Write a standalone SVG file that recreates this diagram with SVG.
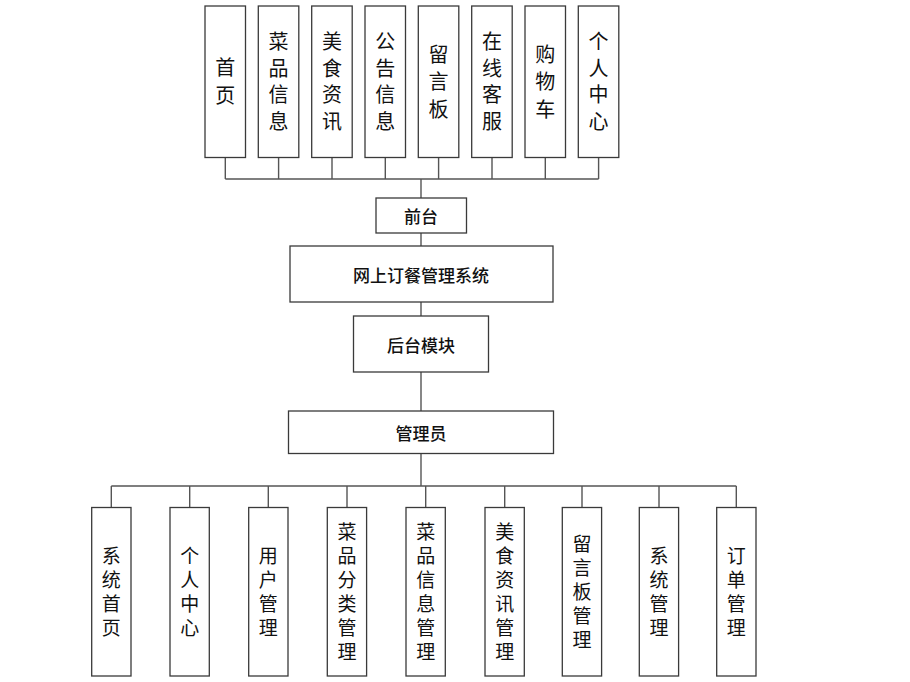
<svg xmlns="http://www.w3.org/2000/svg" width="910" height="682" viewBox="0 0 910 682">
<style>
.box{fill:#fff;stroke:#3a3a3a;stroke-width:1.3}
.ln{fill:none;stroke:#555;stroke-width:1.4}
.t{font-family:"Noto Sans CJK SC","Liberation Sans",sans-serif;fill:#111;text-anchor:middle;dominant-baseline:central}
.v{writing-mode:vertical-rl}
.tt{font-size:20px;letter-spacing:6.5px}
.tt3{font-size:20px;letter-spacing:7.5px}
.bt{font-size:19px;letter-spacing:5px}
.mt{font-size:17px;font-weight:500}
</style>
<rect width="910" height="682" fill="#fff"/>
<g id="connectors">
<path class="ln" d="M225.3,157.5V179M278.6,157.5V179M332,157.5V179M385.3,157.5V179M438.6,157.5V179M492,157.5V179M545.3,157.5V179M598.6,157.5V179M225.3,179H598.6"/>
<path class="ln" d="M421,179V198" stroke="#222"/>
<path class="ln" d="M421,233V246M421,302V316M421,372V411"/>
<path class="ln" d="M421,453V486" stroke="#222"/>
<path class="ln" d="M111.3,486H736.3M111.3,486V507.5M189.7,486V507.5M268.3,486V507.5M347,486V507.5M425.7,486V507.5M504.7,486V507.5M582,486V507.5M659,486V507.5M736.3,486V507.5"/>
</g>
<g id="n-shouye"><rect class="box" x="205" y="6" width="40.5" height="151.5"/><text class="t v tt3" x="225.3" y="85.3">首页</text></g>
<g id="n-caipin"><rect class="box" x="258.3" y="6" width="40.5" height="151.5"/><text class="t v tt" x="278.6" y="84.8">菜品信息</text></g>
<g id="n-meishi"><rect class="box" x="311.7" y="6" width="40.5" height="151.5"/><text class="t v tt" x="332" y="84.8">美食资讯</text></g>
<g id="n-gonggao"><rect class="box" x="365" y="6" width="40.5" height="151.5"/><text class="t v tt" x="385.3" y="84.8">公告信息</text></g>
<g id="n-liuyan"><rect class="box" x="418.3" y="6" width="40.5" height="151.5"/><text class="t v tt3" x="438.6" y="85.3">留言板</text></g>
<g id="n-kefu"><rect class="box" x="471.7" y="6" width="40.5" height="151.5"/><text class="t v tt" x="492" y="84.8">在线客服</text></g>
<g id="n-gouwu"><rect class="box" x="525" y="6" width="40.5" height="151.5"/><text class="t v tt3" x="545.3" y="85.3">购物车</text></g>
<g id="n-geren"><rect class="box" x="578.3" y="6" width="40.5" height="151.5"/><text class="t v tt" x="598.6" y="84.8">个人中心</text></g>
<g id="n-qiantai"><rect class="box" x="376" y="198" width="90.5" height="35"/><text class="t mt" x="421" y="215.5">前台</text></g>
<g id="n-system"><rect class="box" x="290" y="246" width="263" height="56"/><text class="t mt" x="421" y="274" font-size="17.5">网上订餐管理系统</text></g>
<g id="n-houtai"><rect class="box" x="353.5" y="316" width="135" height="56"/><text class="t mt" x="421" y="344" font-size="17.5">后台模块</text></g>
<g id="n-admin"><rect class="box" x="288.5" y="411" width="265" height="42.5"/><text class="t mt" x="421" y="432.5">管理员</text></g>
<g id="n-xtsy"><rect class="box" x="91.7" y="507.5" width="39.3" height="168.5"/><text class="t v bt" x="111.3" y="594">系统首页</text></g>
<g id="n-grzx"><rect class="box" x="170" y="507.5" width="39.3" height="168.5"/><text class="t v bt" x="189.7" y="594">个人中心</text></g>
<g id="n-yhgl"><rect class="box" x="248.7" y="507.5" width="39.3" height="168.5"/><text class="t v bt" x="268.3" y="594">用户管理</text></g>
<g id="n-cpfl"><rect class="box" x="327.3" y="507.5" width="39.3" height="168.5"/><text class="t v bt" x="347" y="594">菜品分类管理</text></g>
<g id="n-cpxx"><rect class="box" x="406" y="507.5" width="39.3" height="168.5"/><text class="t v bt" x="425.7" y="594">菜品信息管理</text></g>
<g id="n-mszx"><rect class="box" x="485" y="507.5" width="39.3" height="168.5"/><text class="t v bt" x="504.7" y="594">美食资讯管理</text></g>
<g id="n-lybgl"><rect class="box" x="562.3" y="507.5" width="39.3" height="168.5"/><text class="t v bt" x="582" y="594">留言板管理</text></g>
<g id="n-xtgl"><rect class="box" x="639.3" y="507.5" width="39.3" height="168.5"/><text class="t v bt" x="659" y="594">系统管理</text></g>
<g id="n-ddgl"><rect class="box" x="716.7" y="507.5" width="39.3" height="168.5"/><text class="t v bt" x="736.3" y="594">订单管理</text></g>
</svg>
